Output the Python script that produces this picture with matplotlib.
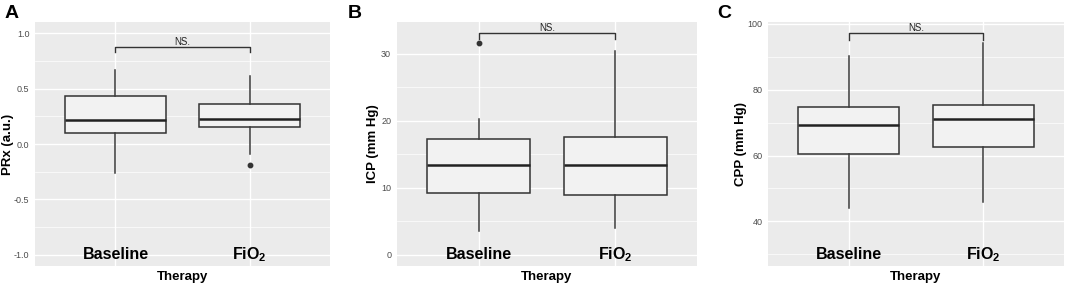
import matplotlib
matplotlib.use("Agg")
import matplotlib.pyplot as plt
from matplotlib.ticker import MultipleLocator
from matplotlib.transforms import blended_transform_factory

plt.rcParams['font.family'] = ['Liberation Sans', 'DejaVu Sans']
plt.rcParams['axes.unicode_minus'] = False
plt.rcParams['mathtext.fontset'] = 'custom'
plt.rcParams['mathtext.rm'] = 'Liberation Sans:bold'
plt.rcParams['mathtext.bf'] = 'Liberation Sans:bold'
plt.rcParams['mathtext.it'] = 'Liberation Sans:bold'

categories = ["Baseline", "FiO$_2$"]
panel_letters = ["A", "B", "C"]
y_labels = ["PRx (a.u.)", "ICP (mm Hg)", "CPP (mm Hg)"]
x_label = "Therapy"

# box stats: (whislo, q1, median, q3, whishi, outliers)
prx_stats = [(-0.265, 0.102, 0.214, 0.431, 0.666, []),
             (-0.09, 0.154, 0.226, 0.361, 0.612, [-0.187])]
icp_stats = [(3.5, 9.18, 13.44, 17.3, 20.2, [31.5]),
             (4.06, 8.88, 13.35, 17.56, 30.36, [])]
cpp_stats = [(44.0, 60.5, 69.2, 74.7, 90.3, []),
             (45.8, 62.7, 71.1, 75.3, 94.1, [])]

# significance bracket: (top, drop)
brackets = [(0.879, 0.828), (33.04, 32.1), (97.2, 95.2)]
sig_label = "NS."

ylims = [(-1.1, 1.1), (-1.64, 34.7), (26.4, 100.6)]
major = [0.5, 10, 20]
minor = [0.25, 5, 10]

axes_rects = [
    (35 / 1065, 19 / 285, 295 / 1065, 244 / 285),
    (396.7 / 1065, 19 / 285, 300.6 / 1065, 244 / 285),
    (768 / 1065, 19 / 285, 296 / 1065, 244 / 285),
]
letter_x = [5 / 1065, 348 / 1065, 717 / 1065]
ylabel_x = [-0.0915, -0.079, -0.091]

fig = plt.figure(figsize=(10.65, 2.85), dpi=100)

all_stats = [prx_stats, icp_stats, cpp_stats]
for i in range(3):
    ax = fig.add_axes(axes_rects[i])
    ax.set_facecolor("#EBEBEB")
    for s in ax.spines.values():
        s.set_visible(False)
    stats = []
    for (lo, q1, med, q3, hi, fl) in all_stats[i]:
        stats.append(dict(whislo=lo, q1=q1, med=med, q3=q3, whishi=hi, fliers=fl))
    ax.bxp(stats, positions=[1, 2], widths=0.75, patch_artist=True,
           showcaps=False,
           boxprops=dict(facecolor="#F2F2F2", edgecolor="#333333", linewidth=1.1),
           medianprops=dict(color="#222222", linewidth=1.8),
           whiskerprops=dict(color="#3a3a3a", linewidth=1.1),
           flierprops=dict(marker="o", markersize=3.2, markerfacecolor="#333333",
                           markeredgecolor="#333333"),
           zorder=3)
    ax.set_xlim(0.4, 2.6)
    ax.set_ylim(*ylims[i])
    ax.yaxis.set_major_locator(MultipleLocator(major[i]))
    ax.yaxis.set_minor_locator(MultipleLocator(minor[i]))
    ax.grid(which="major", color="white", linewidth=1.0, zorder=0)
    ax.grid(which="minor", axis="y", color="white", linewidth=0.5, zorder=0)
    ax.set_axisbelow(True)
    ax.set_xticks([1, 2])
    ax.set_xticklabels([])
    ax.tick_params(axis="x", length=0)
    trans = blended_transform_factory(ax.transData, ax.transAxes)
    for pos, cat in zip([1, 2], categories):
        ax.text(pos, 0.048, cat, transform=trans, ha="center", va="center",
                fontsize=11.5, fontweight="bold", color="black", zorder=6)
    ax.tick_params(axis="y", which="both", length=0, pad=4, labelsize=6.5,
                   labelcolor="#4D4D4D")
    ax.set_ylabel(y_labels[i], fontsize=9.5, fontweight="bold", va="center")
    ax.yaxis.set_label_coords(ylabel_x[i], 0.5)
    ax.set_xlabel(x_label, fontsize=9.5, fontweight="bold", va="center")
    ax.xaxis.set_label_coords(0.5, -0.045)
    top, drop = brackets[i]
    ax.plot([1, 1, 2, 2], [drop, top, top, drop], color="#333333", linewidth=1.0,
            zorder=4)
    ax.text(1.5, top, sig_label, ha="center", va="bottom", fontsize=7,
            color="#222222")
    fig.text(letter_x[i], 1 - 5 / 285, panel_letters[i], fontsize=14,
             fontweight="bold", ha="left", va="top")

fig.savefig("out.png", dpi=100)
